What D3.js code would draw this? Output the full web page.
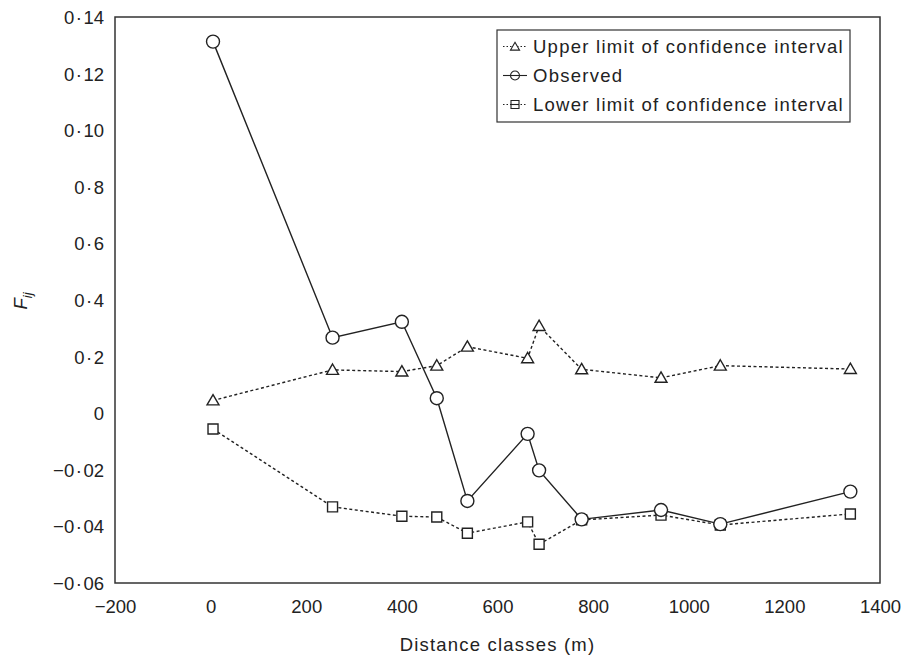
<!DOCTYPE html>
<html>
<head>
<meta charset="utf-8">
<script src="https://cdn.jsdelivr.net/npm/d3@7"></script>
<style>
  body { margin: 0; background: #fff; }
  text { font-family: "Liberation Sans", Arial, sans-serif; fill: #222; }
</style>
</head>
<body>
<svg id="chart"></svg>
<script>
// distance classes (m)
const distances = [5, 255, 400, 473, 537, 663, 687, 776, 942, 1066, 1338];
const upper    = [0.0045, 0.0153, 0.0147, 0.0168, 0.0235, 0.0194, 0.0308, 0.0155, 0.0125, 0.0168, 0.0156];
const observed = [0.1313, 0.0267, 0.0323, 0.0053, -0.031, -0.0073, -0.0202, -0.0375, -0.0342, -0.0392, -0.0277];
const lower    = [-0.0056, -0.0331, -0.0364, -0.0367, -0.0424, -0.0384, -0.0463, -0.0377, -0.036, -0.0395, -0.0356];

const xTicks = [-200, 0, 200, 400, 600, 800, 1000, 1200, 1400];
const xTickLabels = ['\u2212200', '0', '200', '400', '600', '800', '1000', '1200', '1400'];
const yTicks = [0.14, 0.12, 0.10, 0.08, 0.06, 0.04, 0.02, 0, -0.02, -0.04, -0.06];
const yTickLabels = ['0\u00b714', '0\u00b712', '0\u00b710', '0\u00b78', '0\u00b76', '0\u00b74', '0\u00b72', '0', '\u22120\u00b702', '\u22120\u00b704', '\u22120\u00b706'];

const legendLabels = ['Upper limit of confidence interval', 'Observed', 'Lower limit of confidence interval'];

const margin = { top: 17, right: 27, bottom: 75, left: 115 };
const width = 907 - margin.left - margin.right;
const height = 658 - margin.top - margin.bottom;
const ink = '#222';

const svg = d3.select('#chart')
  .attr('width', 907)
  .attr('height', 658);

const g = svg.append('g')
  .attr('transform', `translate(${margin.left},${margin.top})`);

const x = d3.scaleLinear().domain([-200, 1400]).range([0, width]);
const y = d3.scaleLinear().domain([-0.06, 0.14]).range([height, 0]);

// the middle dot in the original is set with a little air either side
const spaced = s => s.replace('\u00b7', '\u200a\u00b7\u200a');

// axes (labels only, no tick marks)
const xAxis = g.append('g')
  .attr('transform', `translate(0,${height})`)
  .call(d3.axisBottom(x).tickValues(xTicks).tickSize(0).tickPadding(17)
    .tickFormat((d, i) => xTickLabels[i]));
const yAxis = g.append('g')
  .call(d3.axisLeft(y).tickValues(yTicks).tickSize(0).tickPadding(11)
    .tickFormat((d, i) => spaced(yTickLabels[i])));
[xAxis, yAxis].forEach(a => {
  a.select('.domain').remove();
  a.selectAll('text').style('font-size', '18.5px').attr('fill', ink)
    .style('font-family', '"Liberation Sans", Arial, sans-serif');
});
yAxis.selectAll('text').attr('dy', '0.35em');

// frame
g.append('rect')
  .attr('width', width).attr('height', height)
  .attr('fill', 'none').attr('stroke', '#333').attr('stroke-width', 1.5);

const series = [
  { name: 'upper', values: upper, dash: '3,2.5', shape: d3.symbolTriangle },
  { name: 'lower', values: lower, dash: '3,2.5', shape: d3.symbolSquare },
  { name: 'observed', values: observed, dash: null, shape: 'circle' }
];

const line = d3.line()
  .x(d => x(d[0]))
  .y(d => y(d[1]));

series.forEach(s => {
  const pts = distances.map((d, i) => [d, s.values[i]]);
  g.append('path')
    .datum(pts)
    .attr('fill', 'none')
    .attr('stroke', ink)
    .attr('stroke-width', 1.4)
    .attr('stroke-dasharray', s.dash)
    .attr('d', line);
  s.pts = pts;
});

function drawMarker(sel, shape) {
  if (shape === 'circle') {
    sel.append('circle').attr('r', 6.5)
      .attr('fill', '#fff').attr('stroke', ink).attr('stroke-width', 1.4);
  } else if (shape === d3.symbolTriangle) {
    sel.append('path').attr('d', d3.symbol().type(shape).size(62)())
      .attr('transform', 'translate(0,1)')
      .attr('fill', '#fff').attr('stroke', ink).attr('stroke-width', 1.4);
  } else {
    sel.append('path').attr('d', d3.symbol().type(shape).size(100)())
      .attr('fill', '#fff').attr('stroke', ink).attr('stroke-width', 1.4);
  }
}

series.forEach(s => {
  g.append('g').selectAll('g')
    .data(s.pts)
    .join('g')
    .attr('transform', d => `translate(${x(d[0])},${y(d[1])})`)
    .each(function() { drawMarker(d3.select(this), s.shape); });
});

// legend
const legend = svg.append('g').attr('transform', 'translate(497,30)');
legend.append('rect')
  .attr('width', 353).attr('height', 92)
  .attr('fill', '#fff').attr('stroke', '#333').attr('stroke-width', 1.2);

const legendItems = [
  { label: legendLabels[0], dash: '1.5,2', shape: d3.symbolTriangle },
  { label: legendLabels[1], dash: null, shape: 'circle' },
  { label: legendLabels[2], dash: '1.5,2', shape: d3.symbolSquare }
];
legendItems.forEach((it, i) => {
  const row = legend.append('g').attr('transform', `translate(0,${16.5 + i * 29})`);
  row.append('line').attr('x1', 6).attr('x2', 30)
    .attr('stroke', ink).attr('stroke-width', 1.1)
    .attr('stroke-dasharray', it.dash);
  const m = row.append('g').attr('transform', 'translate(18,0)');
  if (it.shape === 'circle') {
    m.append('circle').attr('r', 4.5).attr('fill', '#fff').attr('stroke', ink).attr('stroke-width', 1.1);
    m.append('line').attr('x1', -4.5).attr('x2', 4.5).attr('stroke', ink).attr('stroke-width', 1.1);
  } else if (it.shape === d3.symbolSquare) {
    m.append('path').attr('d', d3.symbol().type(it.shape).size(64)())
      .attr('fill', '#fff').attr('stroke', ink).attr('stroke-width', 1.1);
    m.append('line').attr('x1', -4).attr('x2', 4).attr('stroke', ink).attr('stroke-width', 1.1);
  } else {
    m.append('path').attr('d', d3.symbol().type(it.shape).size(36)())
      .attr('transform', 'translate(0,1)')
      .attr('fill', '#fff').attr('stroke', ink).attr('stroke-width', 1.1);
  }
  row.append('text').attr('x', 36).attr('dy', '0.35em')
    .style('font-size', '18.5px').style('letter-spacing', '1.25px')
    .text(it.label);
});

// axis titles
svg.append('text')
  .attr('x', margin.left + width / 2).attr('y', 651)
  .attr('text-anchor', 'middle').style('font-size', '18.5px')
  .style('letter-spacing', '1.2px')
  .text('Distance classes (m)');

const yt = svg.append('text')
  .attr('transform', 'translate(27,301) rotate(-90)')
  .attr('text-anchor', 'middle').style('font-size', '18.5px')
  .style('font-style', 'italic');
yt.append('tspan').text('F');
yt.append('tspan').attr('dy', 5).style('font-size', '13px').text('ij');
</script>
</body>
</html>
